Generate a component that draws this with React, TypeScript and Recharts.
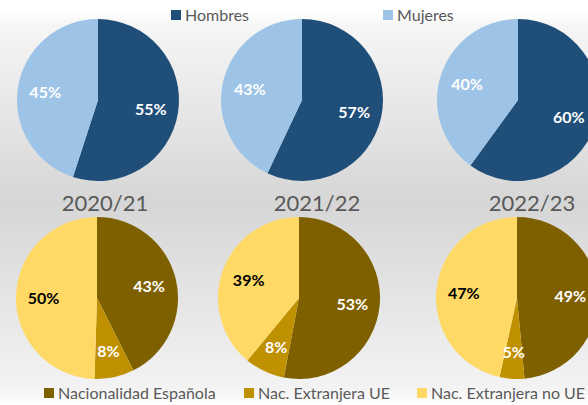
import { PieChart, Pie, Cell } from "recharts";

const years = ["2020/21", "2021/22", "2022/23"];

const hombres = [55, 57, 60];
const mujeres = [45, 43, 40];

const espanola = [43, 53, 49];
const extranjeraUE = [8, 8, 5];
const extranjeraNoUE = [50, 39, 47];

const sexSeries = [
  { name: "Hombres", values: hombres, color: "#1F4E79", labelColor: "#ffffff" },
  { name: "Mujeres", values: mujeres, color: "#9DC3E6", labelColor: "#ffffff" },
];

const natSeries = [
  { name: "Nacionalidad Española", values: espanola, color: "#7F6000", labelColor: "#ffffff" },
  { name: "Nac. Extranjera UE", values: extranjeraUE, color: "#BF9000", labelColor: "#ffffff" },
  { name: "Nac. Extranjera no UE", values: extranjeraNoUE, color: "#FFD966", labelColor: "#000000" },
];

const W = 588;
const H = 405;
const R = 81;
const topCx = [98, 302, 518];
const topCy = 100;
const botCx = [97, 299, 517];
const botCy = 298;
const yearX = [105, 317, 532];

const RAD = Math.PI / 180;
const FONT = "Lato, 'Open Sans', sans-serif";

type Series = { name: string; values: number[]; color: string; labelColor: string };

const sliceData = (series: Series[], i: number) =>
  series.map((s) => ({ name: s.name, value: s.values[i], color: s.color, labelColor: s.labelColor }));

const renderLabel = (props: any) => {
  const { cx, cy, midAngle, outerRadius, value, payload } = props;
  const r = outerRadius * 0.66;
  const x = cx + r * Math.cos(-midAngle * RAD);
  const y = cy + r * Math.sin(-midAngle * RAD);
  const color = (payload && payload.labelColor) || props.labelColor || "#fff";
  return (
    <text
      x={x}
      y={y}
      fill={color}
      textAnchor="middle"
      dominantBaseline="central"
      style={{ fontFamily: FONT, fontSize: 16, fontWeight: 700 }}
    >
      {`${value}%`}
    </text>
  );
};

const LegendRow = ({ items, top, positions }: { items: Series[]; top: number; positions: number[] }) => (
  <>
    {items.map((s, i) => (
      <div
        key={s.name}
        style={{
          position: "absolute",
          left: positions[i],
          top,
          display: "flex",
          alignItems: "center",
          fontFamily: FONT,
          fontSize: 16,
          color: "#595959",
          whiteSpace: "nowrap",
          lineHeight: "20px",
        }}
      >
        <span style={{ display: "inline-block", width: 10, height: 10, background: s.color, marginRight: 4 }} />
        {s.name}
      </div>
    ))}
  </>
);

export default function App() {
  return (
    <div
      style={{
        position: "relative",
        width: W,
        height: H,
        overflow: "hidden",
        background:
          "linear-gradient(to bottom, #ffffff 0%, #ffffff 3%, #f6f6f6 6%, #d6d6d6 50%, #f3f3f3 96%, #ffffff 100%)",
      }}
    >
      <style>{"body{margin:0}"}</style>
      <PieChart
        width={W}
        height={H}
        margin={{ top: 0, right: 0, bottom: 0, left: 0 }}
        style={{ position: "absolute", left: 0, top: 0 }}
      >
        {years.map((y, i) => (
          <Pie
            key={"sex" + y}
            data={sliceData(sexSeries, i)}
            dataKey="value"
            nameKey="name"
            cx={topCx[i]}
            cy={topCy}
            outerRadius={R}
            startAngle={90}
            endAngle={-270}
            stroke="none"
            label={renderLabel}
            labelLine={false}
            isAnimationActive={false}
          >
            {sexSeries.map((s) => (
              <Cell key={s.name} fill={s.color} />
            ))}
          </Pie>
        ))}
        {years.map((y, i) => (
          <Pie
            key={"nat" + y}
            data={sliceData(natSeries, i)}
            dataKey="value"
            nameKey="name"
            cx={botCx[i]}
            cy={botCy}
            outerRadius={R}
            startAngle={90}
            endAngle={-270}
            stroke="none"
            label={renderLabel}
            labelLine={false}
            isAnimationActive={false}
          >
            {natSeries.map((s) => (
              <Cell key={s.name} fill={s.color} />
            ))}
          </Pie>
        ))}
      </PieChart>
      {years.map((y, i) => (
        <div
          key={y}
          style={{
            position: "absolute",
            left: yearX[i] - 60,
            width: 120,
            top: 189,
            textAlign: "center",
            fontFamily: FONT,
            fontSize: 22,
            lineHeight: "28px",
            color: "#595959",
          }}
        >
          {y}
        </div>
      ))}
      <LegendRow items={sexSeries} top={5} positions={[171, 383]} />
      <LegendRow items={natSeries} top={383} positions={[44, 244, 417]} />
    </div>
  );
}
